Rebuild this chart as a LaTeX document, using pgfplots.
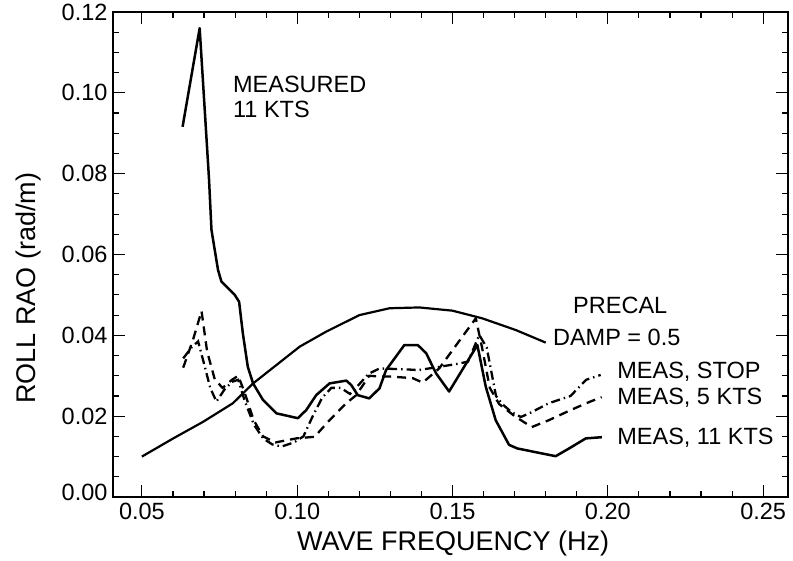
\documentclass[border=0pt]{standalone}
\usepackage{pgfplots}
\pgfplotsset{compat=1.18}
\usepackage{fontspec}
\setmainfont{Liberation Sans}

\begin{document}
\begin{tikzpicture}[font=\fontsize{23.5bp}{28bp}\selectfont]
\begin{axis}[
  scale only axis, width=675bp, height=485bp,
  xmin=0.0407, xmax=0.258, ymin=0, ymax=0.12,
  xtick={0.05,0.1,0.15,0.2,0.25},
  xticklabels={0.05,0.10,0.15,0.20,0.25},
  ytick={0,0.02,0.04,0.06,0.08,0.1,0.12},
  yticklabels={\raisebox{9bp}{0.00},0.02,0.04,0.06,0.08,0.10,\raisebox{-13bp}{0.12}},
  minor x tick num=4, minor y tick num=3,
  tick align=inside,
  major tick length=12bp, minor tick length=6bp,
  tick style={black, line width=1.1bp},
  axis line style={line width=1.5bp},
  xticklabel style={yshift=-3bp},
  yticklabel style={xshift=-2bp},
  /pgf/number format/assume math mode=true,
  xlabel={WAVE FREQUENCY (Hz)},
  ylabel={ROLL RAO (rad/m)},
  xlabel style={at={(axis description cs:0.504,0)}, anchor=north, yshift=-30bp,
    font=\fontsize{27bp}{30bp}\selectfont},
  ylabel style={at={(axis description cs:-0.125,0.43)}, anchor=center,
    font=\fontsize{27bp}{30bp}\selectfont},
  clip=false,
]
\coordinate (bl) at (rel axis cs:0,0);
\coordinate (tr) at (rel axis cs:1,1);

% measured, 11 knots
\addplot[black, line width=2.5bp, line join=round] coordinates {
(0.0631,0.0916) (0.0686,0.1160) (0.0716,0.0788) (0.0724,0.0661)
(0.0745,0.0562) (0.0756,0.0533) (0.0799,0.0500) (0.0813,0.0483)
(0.0825,0.0405) (0.0841,0.0322) (0.0858,0.0281) (0.0890,0.0240)
(0.0933,0.0207) (0.1002,0.0195) (0.1029,0.0215) (0.1061,0.0252)
(0.1104,0.0281) (0.1158,0.0288) (0.1174,0.0277) (0.1195,0.0252)
(0.1232,0.0244) (0.1265,0.0269) (0.1286,0.0314) (0.1345,0.0376)
(0.1388,0.0376) (0.1415,0.0356) (0.1447,0.0306) (0.1489,0.0261)
(0.1580,0.0376) (0.1607,0.0273) (0.1639,0.0190) (0.1682,0.0129)
(0.1709,0.0120) (0.1832,0.0101) (0.1875,0.0120) (0.1929,0.0145)
(0.1981,0.0148)
};

% precalculated, damping 0.5
\addplot[black, line width=2.2bp, line join=round] coordinates {
(0.0500,0.0100) (0.0601,0.0145) (0.0697,0.0186) (0.0793,0.0232)
(0.0858,0.0281) (0.1008,0.0372) (0.1093,0.0409) (0.1200,0.0450)
(0.1297,0.0467) (0.1393,0.0469) (0.1500,0.0461) (0.1596,0.0442)
(0.1704,0.0413) (0.1800,0.0382)
};

% measured, 5 knots
\addplot[black, line width=2.3bp, dash pattern=on 9bp off 6bp] coordinates {
(0.0633,0.0320) (0.0665,0.0390) (0.0692,0.0460) (0.0710,0.0360)
(0.0735,0.0290) (0.0760,0.0270) (0.0790,0.0290) (0.0810,0.0300)
(0.0830,0.0260) (0.0860,0.0190) (0.0890,0.0150) (0.0930,0.0135)
(0.0997,0.0145) (0.1056,0.0149) (0.1104,0.0190) (0.1158,0.0232)
(0.1190,0.0252) (0.1232,0.0300) (0.1265,0.0298) (0.1300,0.0298)
(0.1372,0.0294) (0.1404,0.0283) (0.1457,0.0318) (0.1532,0.0397)
(0.1575,0.0442) (0.1595,0.0370) (0.1620,0.0270) (0.1650,0.0230)
(0.1700,0.0200) (0.1755,0.0173) (0.1810,0.0190) (0.1880,0.0215)
(0.1940,0.0235) (0.1980,0.0247)
};

% measured, stopped
\addplot[black, line width=2.3bp, dash pattern=on 9bp off 4bp on 1.5bp off 4bp] coordinates {
(0.0633,0.0343) (0.0660,0.0370) (0.0681,0.0385) (0.0700,0.0330)
(0.0720,0.0270) (0.0740,0.0236) (0.0765,0.0265) (0.0790,0.0285)
(0.0810,0.0290) (0.0830,0.0240) (0.0860,0.0180) (0.0890,0.0145)
(0.0920,0.0130) (0.0950,0.0125) (0.0990,0.0135) (0.1020,0.0150)
(0.1050,0.0200) (0.1080,0.0245) (0.1110,0.0270) (0.1140,0.0270)
(0.1170,0.0255) (0.1195,0.0275) (0.1230,0.0305) (0.1265,0.0318)
(0.1345,0.0316) (0.1390,0.0314) (0.1457,0.0322) (0.1520,0.0330)
(0.1550,0.0335) (0.1586,0.0401) (0.1610,0.0370) (0.1640,0.0250)
(0.1660,0.0230) (0.1690,0.0210) (0.1720,0.0198) (0.1750,0.0208)
(0.1810,0.0232) (0.1880,0.0250) (0.1930,0.0290) (0.1977,0.0302)
};

\node[anchor=base west, inner sep=0] at (axis cs:0.0793,0.1000) {MEASURED};
\node[anchor=base west, inner sep=0] at (axis cs:0.0793,0.0938) {11 KTS};
\node[anchor=base west, inner sep=0] at (axis cs:0.1888,0.0455) {PRECAL};
\node[anchor=base west, inner sep=0] at (axis cs:0.1823,0.0376) {DAMP = 0.5};
\node[anchor=base west, inner sep=0] at (axis cs:0.2030,0.0294) {MEAS, STOP};
\node[anchor=base west, inner sep=0] at (axis cs:0.2030,0.0228) {MEAS, 5 KTS};
\node[anchor=base west, inner sep=0] at (axis cs:0.2030,0.0129) {MEAS, 11 KTS};
\end{axis}
\pgfresetboundingbox
\path ([xshift=-113bp,yshift=-64bp]bl) rectangle ([xshift=5bp,yshift=12bp]tr);
\end{tikzpicture}
\end{document}
